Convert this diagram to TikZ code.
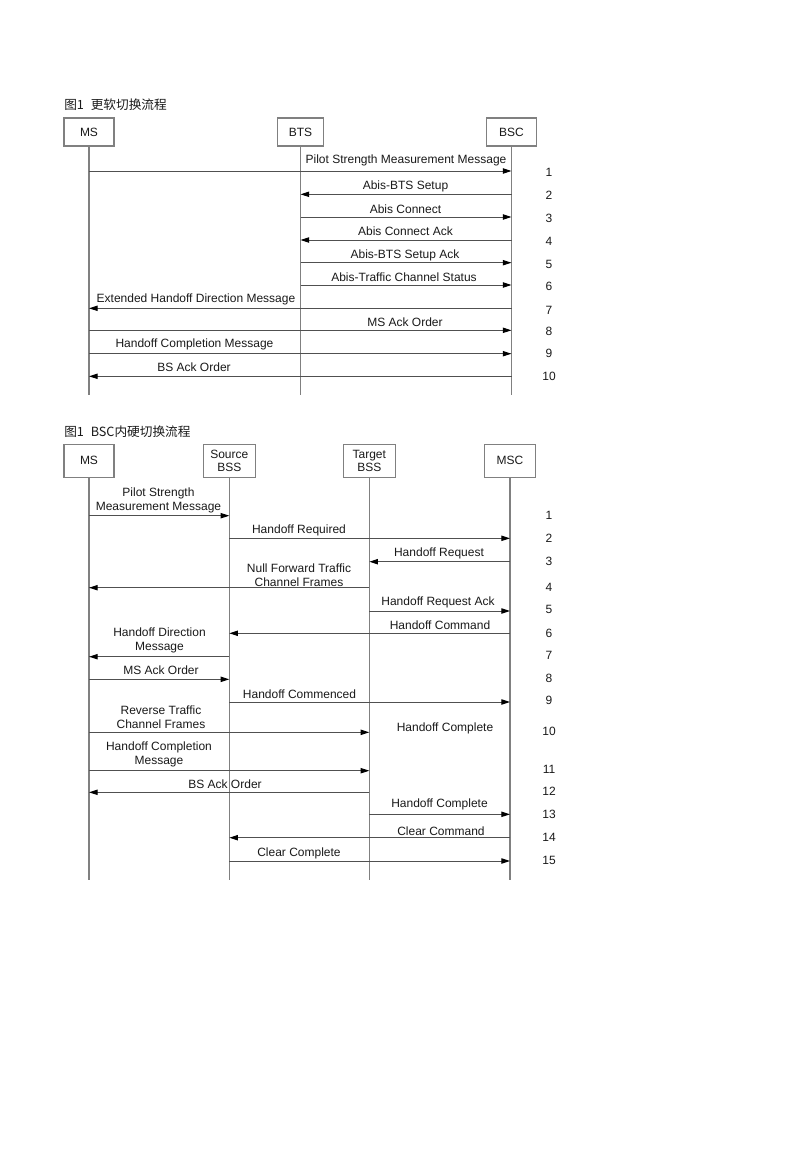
\documentclass[tikz,border=0pt]{standalone}
\usepackage{fontspec}
\setmainfont{Liberation Sans}
\newfontfamily\cjk{Noto Sans CJK SC}
\usetikzlibrary{arrows.meta}
\definecolor{lifegray}{HTML}{808080}
\definecolor{msggray}{HTML}{505050}
\definecolor{txt}{HTML}{1A1A1A}
\tikzset{
  actor/.style={draw=lifegray, line width=0.8pt, fill=white, inner sep=0pt, align=center,
    text=txt, font=\fontsize{9}{10}\selectfont},
  life/.style={draw=lifegray, line width=0.9pt},
  msg/.style={draw=msggray, line width=0.75pt, -{Triangle[length=6.5pt,width=4pt,color=black]}},
  lbl/.style={text=txt, inner sep=0pt, align=center, font=\fontsize{9}{10.5}\selectfont},
  num/.style={text=txt, inner sep=0pt, font=\fontsize{9}{10.5}\selectfont},
  ttl/.style={text=txt, inner sep=0pt, anchor=west, font=\cjk\fontsize{9.5}{11}\selectfont}
}
\begin{document}
\begin{tikzpicture}[x=0.75pt,y=-0.75pt]
\useasboundingbox (0,0) rectangle (800,1165);
\fill[white] (0,0) rectangle (800,1165);

% ===== Diagram 1 =====
\node[ttl] (t1) at (64,105) {图1\hspace{3pt} 更软切换流程};
\node[actor, minimum width=50*0.75pt, minimum height=28*0.75pt] (ms1) at (89,132) {MS};
\node[actor, minimum width=46*0.75pt, minimum height=28*0.75pt] (bts) at (300.5,132) {BTS};
\node[actor, minimum width=50*0.75pt, minimum height=28*0.75pt] (bsc) at (511.5,132) {BSC};
\draw[life] (ms1.south) -- (ms1.south |- 0,395);
\draw[life] (bts.south) -- (bts.south |- 0,395);
\draw[life] (bsc.south) -- (bsc.south |- 0,395);

\draw[msg] (ms1 |- 0,171) -- (bsc |- 0,171);
\node[lbl] (l11) at (406,160.5) {Pilot Strength Measurement Message};
\draw[msg] (bsc |- 0,194.3) -- (bts |- 0,194.3);
\node[lbl] (l12) at (405.5,186) {Abis-BTS Setup};
\draw[msg] (bts |- 0,217) -- (bsc |- 0,217);
\node[lbl] (l13) at (405.5,209) {Abis Connect};
\draw[msg] (bsc |- 0,240) -- (bts |- 0,240);
\node[lbl] (l14) at (405.5,231.5) {Abis Connect Ack};
\draw[msg] (bts |- 0,262.7) -- (bsc |- 0,262.7);
\node[lbl] (l15) at (405,255) {Abis-BTS Setup Ack};
\draw[msg] (bts |- 0,285) -- (bsc |- 0,285);
\node[lbl] (l16) at (404,277) {Abis-Traffic Channel Status};
\draw[msg] (bsc |- 0,308.3) -- (ms1 |- 0,308.3);
\node[lbl] (l17) at (196,299) {Extended Handoff Direction Message};
\draw[msg] (ms1 |- 0,330.3) -- (bsc |- 0,330.3);
\node[lbl] (l18) at (405,322) {MS Ack Order};
\draw[msg] (ms1 |- 0,353.7) -- (bsc |- 0,353.7);
\node[lbl] (l19) at (194.5,344) {Handoff Completion Message};
\draw[msg] (bsc |- 0,376.3) -- (ms1 |- 0,376.3);
\node[lbl] (l110) at (194,367) {BS Ack Order};

\node[num] (n11) at (549,172) {1};
\node[num] (n12) at (549,195.5) {2};
\node[num] (n13) at (549,218) {3};
\node[num] (n14) at (549,241) {4};
\node[num] (n15) at (549,264) {5};
\node[num] (n16) at (549,286.5) {6};
\node[num] (n17) at (549,310) {7};
\node[num] (n18) at (549,331) {8};
\node[num] (n19) at (549,353.5) {9};
\node[num] (n110) at (549,376.5) {10};

% ===== Diagram 2 =====
\node[ttl] (t2) at (64,431.5) {图1\hspace{3pt} BSC内硬切换流程};
\node[actor, minimum width=50*0.75pt, minimum height=33*0.75pt] (ms2) at (89,460.7) {MS};
\node[actor, minimum width=52*0.75pt, minimum height=33*0.75pt] (src) at (229.3,460.7) {Source\\BSS};
\node[actor, minimum width=52*0.75pt, minimum height=33*0.75pt] (tgt) at (369.3,460.7) {Target\\BSS};
\node[actor, minimum width=51*0.75pt, minimum height=33*0.75pt] (msc) at (510,460.7) {MSC};
\draw[life] (ms2.south) -- (ms2.south |- 0,880);
\draw[life] (src.south) -- (src.south |- 0,880);
\draw[life] (tgt.south) -- (tgt.south |- 0,880);
\draw[life] (msc.south) -- (msc.south |- 0,880);

\draw[msg] (ms2 |- 0,515.7) -- (src |- 0,515.7);
\node[lbl] (l21) at (158.5,500.5) {Pilot Strength\\Measurement Message};
\draw[msg] (src |- 0,538.3) -- (msc |- 0,538.3);
\node[lbl] (l22) at (299,530.5) {Handoff Required};
\draw[msg] (msc |- 0,561.7) -- (tgt |- 0,561.7);
\node[lbl] (l23) at (439,553.3) {Handoff Request};
\draw[msg] (tgt |- 0,587.7) -- (ms2 |- 0,587.7);
\node[lbl] (l24) at (299,575) {Null Forward Traffic\\Channel Frames};
\draw[msg] (tgt |- 0,611) -- (msc |- 0,611);
\node[lbl] (l25) at (438,602.7) {Handoff Request Ack};
\draw[msg] (msc |- 0,633.3) -- (src |- 0,633.3);
\node[lbl] (l26) at (440,625) {Handoff Command};
\draw[msg] (src |- 0,656.7) -- (ms2 |- 0,656.7);
\node[lbl] (l27) at (159.5,640.5) {Handoff Direction\\Message};
\draw[msg] (ms2 |- 0,679.3) -- (src |- 0,679.3);
\node[lbl] (l28) at (161,670.7) {MS Ack Order};
\draw[msg] (src |- 0,702) -- (msc |- 0,702);
\node[lbl] (l29) at (299.5,694.5) {Handoff Commenced};
\draw[msg] (ms2 |- 0,732.3) -- (tgt |- 0,732.3);
\node[lbl] (l210) at (161,717) {Reverse Traffic\\Channel Frames};
\node[lbl] (l210b) at (445,728.3) {Handoff Complete};
\draw[msg] (ms2 |- 0,770.7) -- (tgt |- 0,770.7);
\node[lbl] (l211) at (159,754) {Handoff Completion\\Message};
\draw[msg] (tgt |- 0,792.3) -- (ms2 |- 0,792.3);
\node[lbl] (l212) at (225,784) {BS Ack Order};
\draw[msg] (tgt |- 0,814.3) -- (msc |- 0,814.3);
\node[lbl] (l213) at (439.5,804) {Handoff Complete};
\draw[msg] (msc |- 0,837.7) -- (src |- 0,837.7);
\node[lbl] (l214) at (441,831.5) {Clear Command};
\draw[msg] (src |- 0,861) -- (msc |- 0,861);
\node[lbl] (l215) at (299,853.3) {Clear Complete};

\node[num] (n21) at (549,515.5) {1};
\node[num] (n22) at (549,538.5) {2};
\node[num] (n23) at (549,561.5) {3};
\node[num] (n24) at (549,587.5) {4};
\node[num] (n25) at (549,609.5) {5};
\node[num] (n26) at (549,633) {6};
\node[num] (n27) at (549,655.5) {7};
\node[num] (n28) at (549,678) {8};
\node[num] (n29) at (549,700.5) {9};
\node[num] (n210) at (549,731) {10};
\node[num] (n211) at (549,769) {11};
\node[num] (n212) at (549,791.5) {12};
\node[num] (n213) at (549,814) {13};
\node[num] (n214) at (549,837.5) {14};
\node[num] (n215) at (549,860.5) {15};
\end{tikzpicture}
\end{document}
